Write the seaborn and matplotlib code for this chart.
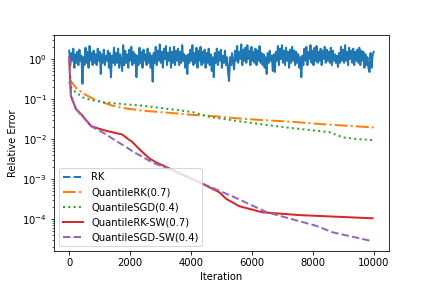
import numpy as np
import pandas as pd
import matplotlib
matplotlib.use("Agg")
import matplotlib.pyplot as plt
import seaborn as sns

# RK: noisy error (evenly spaced over 0..10000 iterations)
rk_err = [
    1.6, 0.7, 1.4, 0.9, 1.8, 0.6, 1.3, 0.8, 1.5, 0.7, 1.7, 0.9, 1.2, 0.24, 1.1,
    0.7, 1.9, 0.8, 1.5, 0.6, 2.1, 0.9, 1.4, 0.7, 1.6, 0.8, 1.3, 0.7, 1.8, 0.9,
    1.5, 0.42, 1.3, 0.8, 1.7, 0.7, 1.2, 0.9, 1.6, 0.6, 1.4, 0.35, 1.2, 0.8, 1.9,
    0.7, 1.4, 0.8, 1.8, 0.6, 1.3, 0.9, 0.5, 2.2, 0.7, 1.6, 0.8, 1.3, 0.6, 1.7,
    0.9, 2.0, 0.7, 1.5, 0.8, 1.3, 0.35, 1.2, 0.7, 1.9, 0.8, 1.5, 0.6, 1.7, 0.9,
    1.3, 0.7, 1.8, 0.8, 1.4, 0.6, 1.2, 0.27, 1.4, 0.8, 2.0, 0.7, 1.6, 0.9, 2.3,
    0.8, 1.5, 0.6, 1.8, 1.0, 2.1, 0.7, 1.4, 0.9, 1.9, 0.6, 1.5, 0.8, 2.0, 0.7,
    1.6, 0.9, 1.8, 0.7, 1.5, 0.8, 2.2, 0.9, 1.3, 0.6, 1.2, 0.42, 1.3, 0.8, 1.7,
    0.9, 2.2, 0.7, 1.4, 0.8, 1.9, 0.6, 1.6, 0.9, 2.0, 0.7, 1.5, 0.8, 1.7, 0.6,
    1.4, 0.8, 1.8, 0.7, 1.3, 0.5, 1.1, 0.35, 1.4, 0.8, 1.8, 0.7, 1.5, 0.9, 1.7,
    0.6, 1.2, 0.8, 1.6, 0.7, 1.1, 0.5, 0.28, 1.1, 0.7, 1.4, 0.8, 0.55, 1.6, 0.9,
    2.1, 0.8, 1.5, 1.0, 2.3, 0.7, 1.7, 0.9, 1.9, 0.8, 2.2, 1.0, 1.6, 0.7, 2.0,
    0.9, 1.5, 0.8, 1.8, 0.7, 1.6, 0.9, 2.1, 0.8, 1.4, 0.7, 1.3, 0.6, 1.1, 0.42,
    1.4, 0.8, 1.6, 0.9, 1.2, 0.5, 1.3, 0.47, 1.5, 0.9, 2.1, 0.7, 1.8, 1.0, 2.2,
    0.8, 1.6, 0.7, 1.9, 0.9, 1.5, 0.6, 1.7, 0.8, 2.0, 0.9, 1.6, 0.7, 1.5, 0.8,
    1.3, 0.6, 1.1, 0.35, 1.2, 0.7, 1.8, 0.9, 2.0, 0.7, 1.5, 1.0, 2.2, 0.8, 1.6,
    0.7, 1.9, 0.9, 2.1, 0.8, 1.5, 0.9, 1.8, 0.7, 1.6, 1.0, 2.0, 0.8, 1.7, 0.9,
    1.5, 0.8, 1.9, 0.7, 1.6, 0.9, 1.3, 0.8, 1.2, 0.63, 1.4, 0.8, 2.0, 0.9, 1.7,
    0.8, 2.2, 0.9, 1.5, 0.7, 1.9, 1.0, 1.6, 0.8, 1.8, 0.7, 1.5, 0.9, 1.7, 0.8,
    1.9, 0.7, 1.6, 0.9, 1.5, 0.6, 1.3, 0.7, 1.1, 0.6, 0.47, 1.4, 0.6, 1.2, 1.5,
]
rk_iter = np.linspace(0, 10000, len(rk_err))

qrk_iter = [0, 100, 250, 490, 800, 1100, 1425, 1800, 2410, 3000, 3600, 4055, 4600,
            5500, 6250, 7300, 8220, 9300, 10000]
qrk_err = [0.32, 0.25, 0.18, 0.133, 0.1, 0.082, 0.068, 0.059, 0.051, 0.047, 0.043,
           0.040, 0.038, 0.033, 0.030, 0.027, 0.0237, 0.021, 0.0195]

qsgd_iter = [0, 55, 200, 440, 700, 1100, 1700, 2410, 3200, 4055, 4600, 5400, 6250,
             7340, 8000, 8550, 8800, 8990, 9500, 10000]
qsgd_err = [0.27, 0.195, 0.15, 0.11, 0.095, 0.083, 0.075, 0.068, 0.057, 0.047, 0.036,
            0.029, 0.0237, 0.0186, 0.0165, 0.0148, 0.0125, 0.011, 0.0099, 0.0094]

qrksw_iter = [0, 20, 55, 220, 440, 715, 990, 1220, 1640, 1740, 1970, 2040, 2370, 2630,
              2860, 3190, 3700, 4280, 4375, 4930, 5160, 5590, 6350, 7570, 9970]
qrksw_err = [1.1, 0.45, 0.12, 0.056, 0.038, 0.021, 0.018, 0.016, 0.0135, 0.013, 0.0095,
             0.0089, 0.005, 0.0033, 0.0026, 0.002, 0.0013, 0.00083, 0.00076, 0.00047,
             0.00032, 0.00021, 0.000148, 0.000126, 0.000105]

qsgdsw_iter = [0, 20, 55, 220, 440, 760, 1090, 1550, 1870, 2070, 2730, 3850, 4280,
               5400, 6500, 8120, 8650, 9970]
qsgdsw_err = [1.1, 0.45, 0.12, 0.056, 0.036, 0.02, 0.0148, 0.0089, 0.0063, 0.005,
              0.0026, 0.0012, 0.00083, 0.00036, 0.000148, 0.000068, 0.000047, 0.000028]

series = [
    ("RK", rk_iter, rk_err, "--"),
    ("QuantileRK(0.7)", qrk_iter, qrk_err, "-."),
    ("QuantileSGD(0.4)", qsgd_iter, qsgd_err, ":"),
    ("QuantileRK-SW(0.7)", qrksw_iter, qrksw_err, "-"),
    ("QuantileSGD-SW(0.4)", qsgdsw_iter, qsgdsw_err, "--"),
]

fig, ax = plt.subplots(figsize=(6, 4), dpi=72)
fig.subplots_adjust(left=0.125, right=0.9, top=0.88, bottom=0.128)

for i, (name, xs, ys, ls) in enumerate(series):
    df = pd.DataFrame({"iteration": xs, "error": ys})
    # the dense RK trace reads as a solid band; its dashes only show in the legend
    draw_ls = "-" if name == "RK" else ls
    sns.lineplot(data=df, x="iteration", y="error", ax=ax, color=f"C{i}",
                 linestyle=draw_ls, linewidth=2, label=name, sort=False,
                 estimator=None)

ax.set_yscale("log")
ax.set_xlabel("Iteration")
ax.set_ylabel("Relative Error")
leg = ax.legend(loc="lower left")
for handle, (_, _, _, ls) in zip(leg.get_lines(), series):
    handle.set_linestyle(ls)

fig.savefig("out.png", dpi=72)
